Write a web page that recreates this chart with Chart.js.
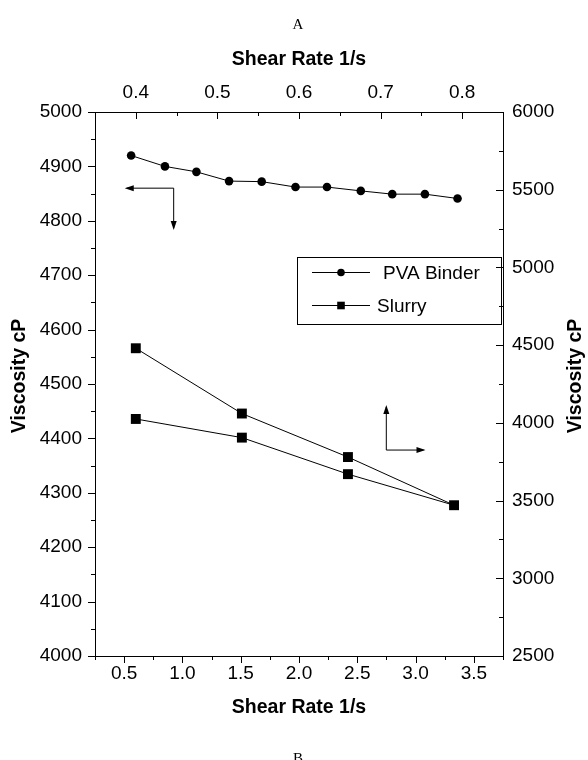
<!DOCTYPE html>
<html>
<head>
<meta charset="utf-8">
<script src="https://cdn.jsdelivr.net/npm/chart.js@4.4.0/dist/chart.umd.min.js"></script>
<style>
html, body { margin: 0; padding: 0; background: #fff; overflow: hidden; }
#wrap { position: relative; width: 588px; height: 760px; overflow: hidden; }
canvas { position: absolute; left: 0; top: 0; }
.mark { position: absolute; left: 4px; width: 588px; text-align: center; font: 15px "Liberation Serif", "Times New Roman", serif; color: #000; line-height: 20px; }
</style>
</head>
<body>
<div id="wrap">
<canvas id="chart" width="588" height="760"></canvas>
<div class="mark" style="top:14px">A</div>
<div class="mark" style="top:748px">B</div>
</div>
<script>
// PVA binder: bottom shear-rate axis, left viscosity axis
const pvaShear = [0.56, 0.85, 1.12, 1.40, 1.68, 1.97, 2.24, 2.53, 2.80, 3.08, 3.36];
const pvaVisc = [4920, 4900, 4890, 4873, 4872, 4862, 4862, 4855, 4849, 4849, 4841];

// Slurry: top shear-rate axis, right viscosity axis (up sweep then down sweep)
const slurryShear = [0.40, 0.53, 0.66, 0.79, 0.66, 0.53, 0.40];
const slurryVisc = [4480, 4060, 3780, 3470, 3670, 3905, 4025];

const seriesNames = ['PVA Binder', 'Slurry'];
const xTitle = 'Shear Rate 1/s';
const yTitle = 'Viscosity cP';

// arrow annotations, in data units of the axes they point to
const pvaArrow = { corner: [0.925, 4860], tipX: 0.505, tipY: 4783 };
const slurryArrow = { corner: [0.707, 3825], tipX: 0.755, tipY: 4115 };

const ctx = document.getElementById('chart').getContext('2d');
Chart.defaults.font.family = '"Liberation Sans", Arial, sans-serif';
Chart.defaults.color = '#000';

const tickFont = { size: 19 };
const titleFont = { size: 19.5, weight: 'bold' };

function labelEvery(step, digits) {
    return function (v) {
        const r = Math.round(v / step);
        return Math.abs(v - r * step) < step * 1e-6 ? v.toFixed(digits) : '';
    };
}

// small ticks: left/bottom point out, top/right point in
const tickMarks = {
    id: 'tickMarks',
    afterDraw(chart) {
        const c = chart.ctx;
        c.save();
        c.strokeStyle = '#000';
        c.lineWidth = 1;
        ['x', 'x2', 'y', 'y2'].forEach(id => {
            const s = chart.scales[id];
            s.ticks.forEach((t, i) => {
                const len = t.label ? 7 : 4;
                const p = Math.round(s.getPixelForTick(i)) + 0.5;
                c.beginPath();
                if (s.isHorizontal()) {
                    const y0 = id === 'x' ? s.top : s.bottom;
                    c.moveTo(p, y0);
                    c.lineTo(p, y0 + len);
                } else {
                    const x0 = id === 'y' ? s.right : s.left;
                    c.moveTo(x0, p);
                    c.lineTo(x0 - len, p);
                }
                c.stroke();
            });
        });
        c.restore();
    }
};

// both vertical titles read bottom to top
const yTitles = {
    id: 'yTitles',
    afterDraw(chart) {
        const c = chart.ctx;
        const a = chart.chartArea;
        const cy = (a.top + a.bottom) / 2 - 8;
        c.save();
        c.font = 'bold 19.5px "Liberation Sans", Arial, sans-serif';
        c.fillStyle = '#000';
        c.textAlign = 'center';
        c.textBaseline = 'middle';
        [19.5, 576].forEach(cx => {
            c.save();
            c.translate(cx, cy);
            c.rotate(-Math.PI / 2);
            c.fillText(yTitle, 0, 0);
            c.restore();
        });
        c.restore();
    }
};

function arrowHead(c, x, y, dx, dy) {
    const L = 9, W = 3;
    c.beginPath();
    c.moveTo(x, y);
    c.lineTo(x - dx * L - dy * W, y - dy * L - dx * W);
    c.lineTo(x - dx * L + dy * W, y - dy * L + dx * W);
    c.closePath();
    c.fill();
}

const arrows = {
    id: 'arrows',
    afterDraw(chart) {
        const c = chart.ctx;
        const { x, y, x2, y2 } = chart.scales;
        c.save();
        c.strokeStyle = '#000';
        c.fillStyle = '#000';
        c.lineWidth = 1;
        // PVA: left and down
        let cx = x.getPixelForValue(pvaArrow.corner[0]);
        let cy = y.getPixelForValue(pvaArrow.corner[1]);
        let tx = x.getPixelForValue(pvaArrow.tipX);
        let ty = y.getPixelForValue(pvaArrow.tipY);
        c.beginPath();
        c.moveTo(tx + 2, cy); c.lineTo(cx, cy); c.lineTo(cx, ty - 2);
        c.stroke();
        arrowHead(c, tx, cy, -1, 0);
        arrowHead(c, cx, ty, 0, 1);
        // Slurry: up and right
        cx = x2.getPixelForValue(slurryArrow.corner[0]);
        cy = y2.getPixelForValue(slurryArrow.corner[1]);
        tx = x2.getPixelForValue(slurryArrow.tipX);
        ty = y2.getPixelForValue(slurryArrow.tipY);
        c.beginPath();
        c.moveTo(cx, ty + 2); c.lineTo(cx, cy); c.lineTo(tx - 2, cy);
        c.stroke();
        arrowHead(c, cx, ty, 0, -1);
        arrowHead(c, tx, cy, 1, 0);
        c.restore();
    }
};

// boxed legend inside the plot, upper right
const boxLegend = {
    id: 'boxLegend',
    afterDraw(chart) {
        const c = chart.ctx;
        const a = chart.chartArea;
        const left = a.left + 202, top = 257, right = a.right - 2, bottom = 324;
        const rows = [272, 305];
        const textX = [383, 377];
        c.save();
        c.strokeStyle = '#000';
        c.lineWidth = 1;
        c.strokeRect(left + 0.5, top + 0.5, right - left, bottom - top);
        c.font = '19px "Liberation Sans", Arial, sans-serif';
        c.textBaseline = 'middle';
        c.fillStyle = '#000';
        chart.data.datasets.forEach((ds, i) => {
            const yy = rows[i] + 0.5;
            c.beginPath();
            c.moveTo(left + 15, yy); c.lineTo(left + 73, yy);
            c.stroke();
            const mx = left + 44;
            c.beginPath();
            if (ds.pointStyle === 'circle') {
                c.arc(mx, yy, 3.8, 0, Math.PI * 2);
            } else {
                c.rect(mx - 3.8, yy - 3.8, 7.6, 7.6);
            }
            c.fill();
            c.fillText(ds.label, textX[i], yy + 1);
        });
        c.restore();
    }
};

const noGrid = { display: false, drawTicks: false };
const axisLine = { display: true, color: '#000', width: 1 };

new Chart(ctx, {
    type: 'scatter',
    data: {
        datasets: [{
            label: seriesNames[0],
            data: pvaShear.map((v, i) => ({ x: v, y: pvaVisc[i] })),
            xAxisID: 'x',
            yAxisID: 'y',
            showLine: true,
            borderColor: '#000',
            backgroundColor: '#000',
            borderWidth: 1,
            pointStyle: 'circle',
            pointRadius: 4.3,
            pointBorderWidth: 0
        }, {
            label: seriesNames[1],
            data: slurryShear.map((v, i) => ({ x: v, y: slurryVisc[i] })),
            xAxisID: 'x2',
            yAxisID: 'y2',
            showLine: true,
            borderColor: '#000',
            backgroundColor: '#000',
            borderWidth: 1,
            pointStyle: 'rect',
            pointRadius: 7,
            pointBorderWidth: 0
        }]
    },
    options: {
        responsive: false,
        animation: false,
        layout: { padding: 0 },
        plugins: { legend: { display: false }, tooltip: { enabled: false } },
        scales: {
            x: {
                type: 'linear', position: 'bottom', min: 0.25, max: 3.75,
                grid: noGrid, border: axisLine,
                ticks: { stepSize: 0.25, autoSkip: false, maxRotation: 0, padding: 6, font: tickFont, callback: labelEvery(0.5, 1) },
                title: { display: true, text: xTitle, font: titleFont, padding: { bottom: 41 } },
                afterFit: s => { s.height = 104; }
            },
            x2: {
                type: 'linear', position: 'top', min: 0.35, max: 0.85,
                grid: noGrid, border: axisLine,
                ticks: { stepSize: 0.05, autoSkip: false, maxRotation: 0, padding: 8, font: tickFont, callback: labelEvery(0.1, 1) },
                title: { display: true, text: xTitle, font: titleFont, padding: { top: 48 } },
                afterFit: s => { s.height = 112; }
            },
            y: {
                type: 'linear', position: 'left', min: 4000, max: 5000,
                grid: noGrid, border: axisLine,
                ticks: { stepSize: 50, autoSkip: false, padding: 13, font: tickFont, callback: labelEvery(100, 0) },
                afterFit: s => { s.width = 95; }
            },
            y2: {
                type: 'linear', position: 'right', min: 2500, max: 6000,
                grid: noGrid, border: axisLine,
                ticks: { stepSize: 250, autoSkip: false, padding: 9, font: tickFont, callback: labelEvery(500, 0) },
                afterFit: s => { s.width = 85; }
            }
        }
    },
    plugins: [tickMarks, yTitles, arrows, boxLegend]
});
</script>
</body>
</html>
